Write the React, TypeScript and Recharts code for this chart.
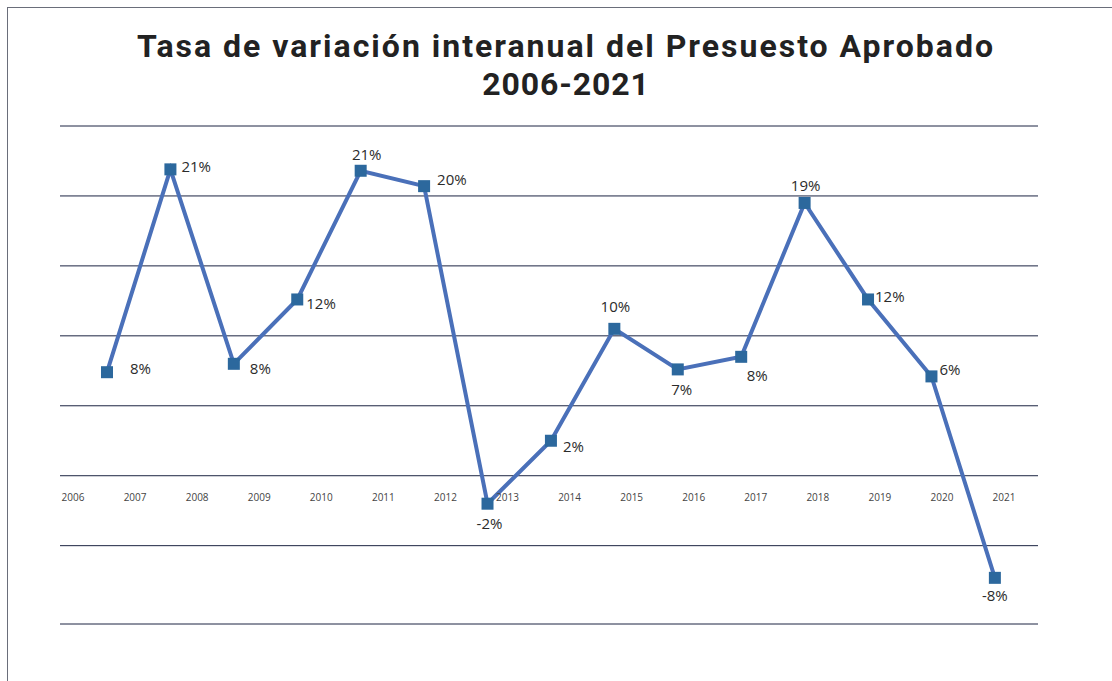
import React from "react";
import { LineChart, Line, XAxis, YAxis, CartesianGrid } from "recharts";

const years = [2007, 2008, 2009, 2010, 2011, 2012, 2013, 2014, 2015, 2016, 2017, 2018, 2019, 2020, 2021];
const values = [7.4, 21.9, 8.0, 12.6, 21.8, 20.7, -2.0, 2.5, 10.5, 7.6, 8.5, 19.5, 12.6, 7.1, -7.3];
const valueLabels = ["8%", "21%", "8%", "12%", "21%", "20%", "-2%", "2%", "10%", "7%", "8%", "19%", "12%", "6%", "-8%"];
const axisYears = [2006, 2007, 2008, 2009, 2010, 2011, 2012, 2013, 2014, 2015, 2016, 2017, 2018, 2019, 2020, 2021];
const yTicks = [-10.6, -5, 0, 5, 10, 15, 20, 25];
const titleLines = ["Tasa de variación interanual del Presuesto Aprobado", "2006-2021"];

// label placement (style): dx, dy relative to marker, anchor
const labelPlacement = [
  { dx: 23, dy: -4, a: "start" },
  { dx: 11, dy: -3, a: "start" },
  { dx: 16, dy: 4, a: "start" },
  { dx: 9, dy: 4, a: "start" },
  { dx: 6, dy: -17, a: "middle" },
  { dx: 13, dy: -7, a: "start" },
  { dx: 2, dy: 19, a: "middle" },
  { dx: 12, dy: 5, a: "start" },
  { dx: 1, dy: -23, a: "middle" },
  { dx: 4, dy: 20, a: "middle" },
  { dx: 16, dy: 18, a: "middle" },
  { dx: 1, dy: -18, a: "middle" },
  { dx: 7, dy: -3, a: "start" },
  { dx: 8, dy: -7, a: "start" },
  { dx: 0, dy: 17, a: "middle" },
];

const data = years.map((y, i) => ({ year: y, v: values[i], lab: valueLabels[i] }));

const FONT = "'Open Sans', 'Noto Sans', sans-serif";

const Square = (props: any) => {
  const { cx, cy, index } = props;
  if (cx == null || cy == null) return <g key={index} />;
  return <rect key={index} x={cx - 6} y={cy - 6} width={12} height={12} fill="#2c689d" />;
};

const ValueLabel = (props: any) => {
  const { x, y, index } = props;
  const p = labelPlacement[index];
  return (
    <text
      key={index}
      x={x + p.dx}
      y={y + p.dy}
      textAnchor={p.a}
      dominantBaseline="central"
      fontFamily={FONT}
      fontSize={15}
      fill="#2b2b2b"
    >
      {valueLabels[index]}
    </text>
  );
};

const YearTick = (props: any) => {
  const { x, y, payload } = props;
  return (
    <text x={x} y={y} dy={-123} textAnchor="middle" fontFamily={FONT} fontSize={10} fill="#444">
      {payload.value}
    </text>
  );
};

const titleStyle: React.CSSProperties = {
  position: "absolute",
  left: 0,
  width: 1132,
  textAlign: "center",
  fontFamily: "Roboto, sans-serif",
  fontWeight: 700,
  fontSize: 32,
  lineHeight: "32px",
  height: 32,
  color: "#222",
  whiteSpace: "nowrap",
};

export default function App() {
  return (
    <div style={{ position: "absolute", left: 0, top: 0, width: 1112, height: 681, background: "#fff", overflow: "hidden" }}>
      <div
        style={{
          position: "absolute",
          left: 7,
          top: 7,
          width: 1200,
          height: 700,
          borderLeft: "1.5px solid #6a6e7a",
          borderTop: "1.5px solid #6a6e7a",
        }}
      />
      <div style={{ ...titleStyle, top: 30, letterSpacing: 2 }}>{titleLines[0]}</div>
      <div style={{ ...titleStyle, top: 68, letterSpacing: 0.9 }}>{titleLines[1]}</div>
      <div style={{ position: "absolute", left: 0, top: 0 }}>
        <LineChart width={1112} height={681} data={data} margin={{ top: 126, right: 74, bottom: 27, left: 60 }}>
          <CartesianGrid xAxisId="pts" vertical={false} stroke="#1c2442" strokeWidth={1} />
          <XAxis xAxisId="pts" dataKey="year" type="number" domain={[2006.259, 2021.68]} allowDataOverflow hide />
          <XAxis
            xAxisId="lab"
            dataKey="year"
            type="number"
            domain={[2005.79, 2021.547]}
            allowDataOverflow
            ticks={axisYears}
            interval={0}
            axisLine={false}
            tickLine={false}
            tickSize={0}
            tickMargin={0}
            height={30}
            tick={<YearTick />}
          />
          <YAxis domain={[-10.6, 25]} ticks={yTicks} allowDataOverflow hide />
          <Line
            xAxisId="lab"
            dataKey="v"
            stroke="none"
            dot={false}
            activeDot={false}
            legendType="none"
            isAnimationActive={false}
          />
          <Line
            xAxisId="pts"
            dataKey="v"
            stroke="#4a70b9"
            strokeWidth={4}
            dot={<Square />}
            activeDot={false}
            label={<ValueLabel />}
            isAnimationActive={false}
          />
        </LineChart>
      </div>
    </div>
  );
}
